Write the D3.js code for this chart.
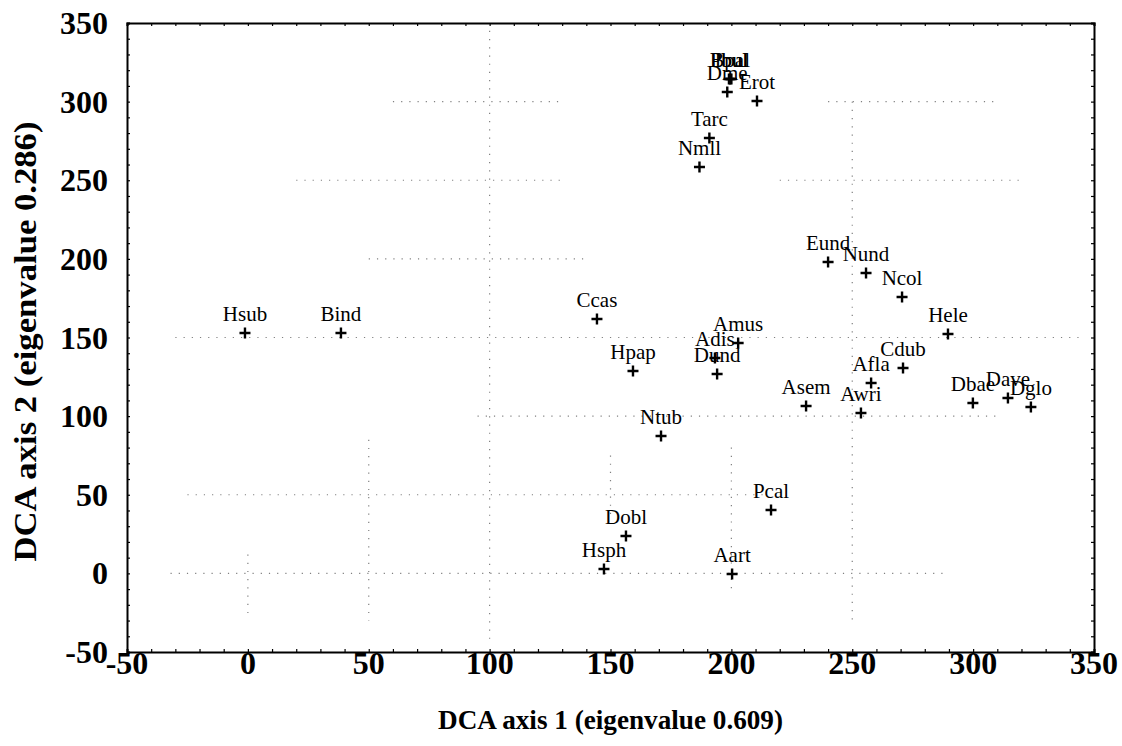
<!DOCTYPE html>
<html>
<head>
<meta charset="utf-8">
<script src="https://cdn.jsdelivr.net/npm/d3@7"></script>
<style>
  html, body { margin: 0; padding: 0; background: #fff; }
  svg { display: block; }
</style>
</head>
<body>
<svg id="chart" width="1122" height="746"></svg>
<script>
// ---- data ----
const species = ["Hsub","Bind","Ccas","Hpap","Ntub","Dobl","Hsph","Aart","Pcal","Dund","Amus","Adis",
  "Asem","Afla","Awri","Cdub","Ncol","Nund","Eund","Hele","Dbae","Dave","Dglo","Dme","Erot","Tarc","Nmll",
  "Pbul","Bpal","Ibul"];
const axis1 = [-1.2, 38.5, 144.4, 159.3, 170.9, 156.4, 147.3, 200.3, 216.4, 194.1, 202.8, 193.2,
  230.9, 257.8, 253.6, 271.0, 270.6, 255.7, 240.0, 289.6, 299.9, 314.4, 323.9, 198.3, 210.6, 190.9, 186.8,
  199.0, 199.5, 200.0];
const axis2 = [152.9, 152.9, 161.8, 128.7, 87.4, 23.8, 2.8, -0.4, 40.3, 126.8, 146.5, 137.0,
  106.4, 121.1, 102.0, 130.6, 175.8, 191.0, 198.0, 152.2, 108.3, 111.5, 105.8, 306.1, 300.4, 276.9, 258.4,
  314.4, 314.4, 314.4];
const xTicks = [-50, 0, 50, 100, 150, 200, 250, 300, 350];
const yTicks = [-50, 0, 50, 100, 150, 200, 250, 300, 350];
const xTitle = "DCA axis 1 (eigenvalue 0.609)";
const yTitle = "DCA axis 2 (eigenvalue 0.286)";
// dotted reference segments (data units): vertical [x, yFrom, yTo], horizontal [y, xFrom, xTo]
const gridV = [[0, 12, -28], [50, 85, -30], [100, 345, -45], [150, 75, 35], [200, 80, -10], [250, 300, -30]];
const gridH = [[300, 60, 130], [300, 240, 310], [250, 20, 130], [250, 220, 320], [200, 50, 140],
  [150, -30, 345], [100, 95, 310], [50, -25, 215], [0, -32, 290]];

// ---- layout ----
const svg = d3.select("#chart");
const L = 127, R = 1094, T = 23, B = 652;
const x = d3.scaleLinear().domain([-50, 350]).range([L, R]);
const y = d3.scaleLinear().domain([-50, 350]).range([B, T]);
const serif = "'Liberation Serif', 'Times New Roman', serif";

// dotted grid
const g = svg.append("g").attr("stroke", "#808080").attr("stroke-width", 1.2)
  .attr("stroke-dasharray", "1.2,7").attr("fill", "none");
gridV.forEach(d => g.append("line").attr("x1", x(d[0])).attr("x2", x(d[0])).attr("y1", y(d[1])).attr("y2", y(d[2])));
gridH.forEach(d => g.append("line").attr("y1", y(d[0])).attr("y2", y(d[0])).attr("x1", x(d[1])).attr("x2", x(d[2])));

// frame with small inward minor ticks
const minor = d3.range(-50, 351, 10);
const axB = d3.axisBottom(x).tickValues(minor).tickSize(-3).tickFormat("");
const axT = d3.axisTop(x).tickValues(minor).tickSize(-3).tickFormat("");
const axL = d3.axisLeft(y).tickValues(minor).tickSize(-3).tickFormat("");
const axR = d3.axisRight(y).tickValues(minor).tickSize(-3).tickFormat("");
[[axB, `translate(0,${B})`], [axT, `translate(0,${T})`], [axL, `translate(${L},0)`], [axR, `translate(${R},0)`]]
  .forEach(([ax, tr]) => {
    const a = svg.append("g").attr("transform", tr).call(ax);
    a.select(".domain").attr("stroke", "#000").attr("stroke-width", 2);
    a.selectAll(".tick line").attr("stroke", "#000").attr("stroke-width", 1.2);
  });

// tick labels
svg.append("g").selectAll("text").data(xTicks).join("text")
  .attr("x", d => x(d)).attr("y", B + 22)
  .attr("text-anchor", "middle")
  .attr("font-family", serif)
  .attr("font-weight", "bold").attr("font-size", 32)
  .text(d => d);
svg.append("g").selectAll("text").data(yTicks).join("text")
  .attr("x", L - 19).attr("y", d => y(d) + 11)
  .attr("text-anchor", "end")
  .attr("font-family", serif)
  .attr("font-weight", "bold").attr("font-size", 32)
  .text(d => d);

// axis titles
svg.append("text").attr("x", (L + R) / 2).attr("y", 729)
  .attr("text-anchor", "middle")
  .attr("font-family", serif)
  .attr("font-weight", "bold").attr("font-size", 27)
  .attr("textLength", 345).attr("lengthAdjust", "spacingAndGlyphs")
  .text(xTitle);
svg.append("text").attr("transform", `translate(36,${(T + B) / 2 + 4}) rotate(-90)`)
  .attr("text-anchor", "middle")
  .attr("font-family", serif)
  .attr("font-weight", "bold").attr("font-size", 31)
  .attr("textLength", 440).attr("lengthAdjust", "spacingAndGlyphs")
  .text(yTitle);

// points
const pts = species.map((s, i) => ({ s, a: axis1[i], b: axis2[i] }));
const pg = svg.append("g");
pg.selectAll("path.m").data(pts).join("path").attr("class", "m")
  .attr("d", d => `M${x(d.a) - 5.5},${y(d.b)}H${x(d.a) + 5.5}M${x(d.a)},${y(d.b) - 5.5}V${y(d.b) + 5.5}`)
  .attr("stroke", "#000").attr("stroke-width", 2.4).attr("fill", "none");
pg.selectAll("text").data(pts).join("text")
  .attr("x", d => x(d.a)).attr("y", d => y(d.b) - 12)
  .attr("text-anchor", "middle")
  .attr("font-family", serif)
  .attr("font-size", 21)
  .attr("fill", "#000")
  .text(d => d.s);
</script>
</body>
</html>
